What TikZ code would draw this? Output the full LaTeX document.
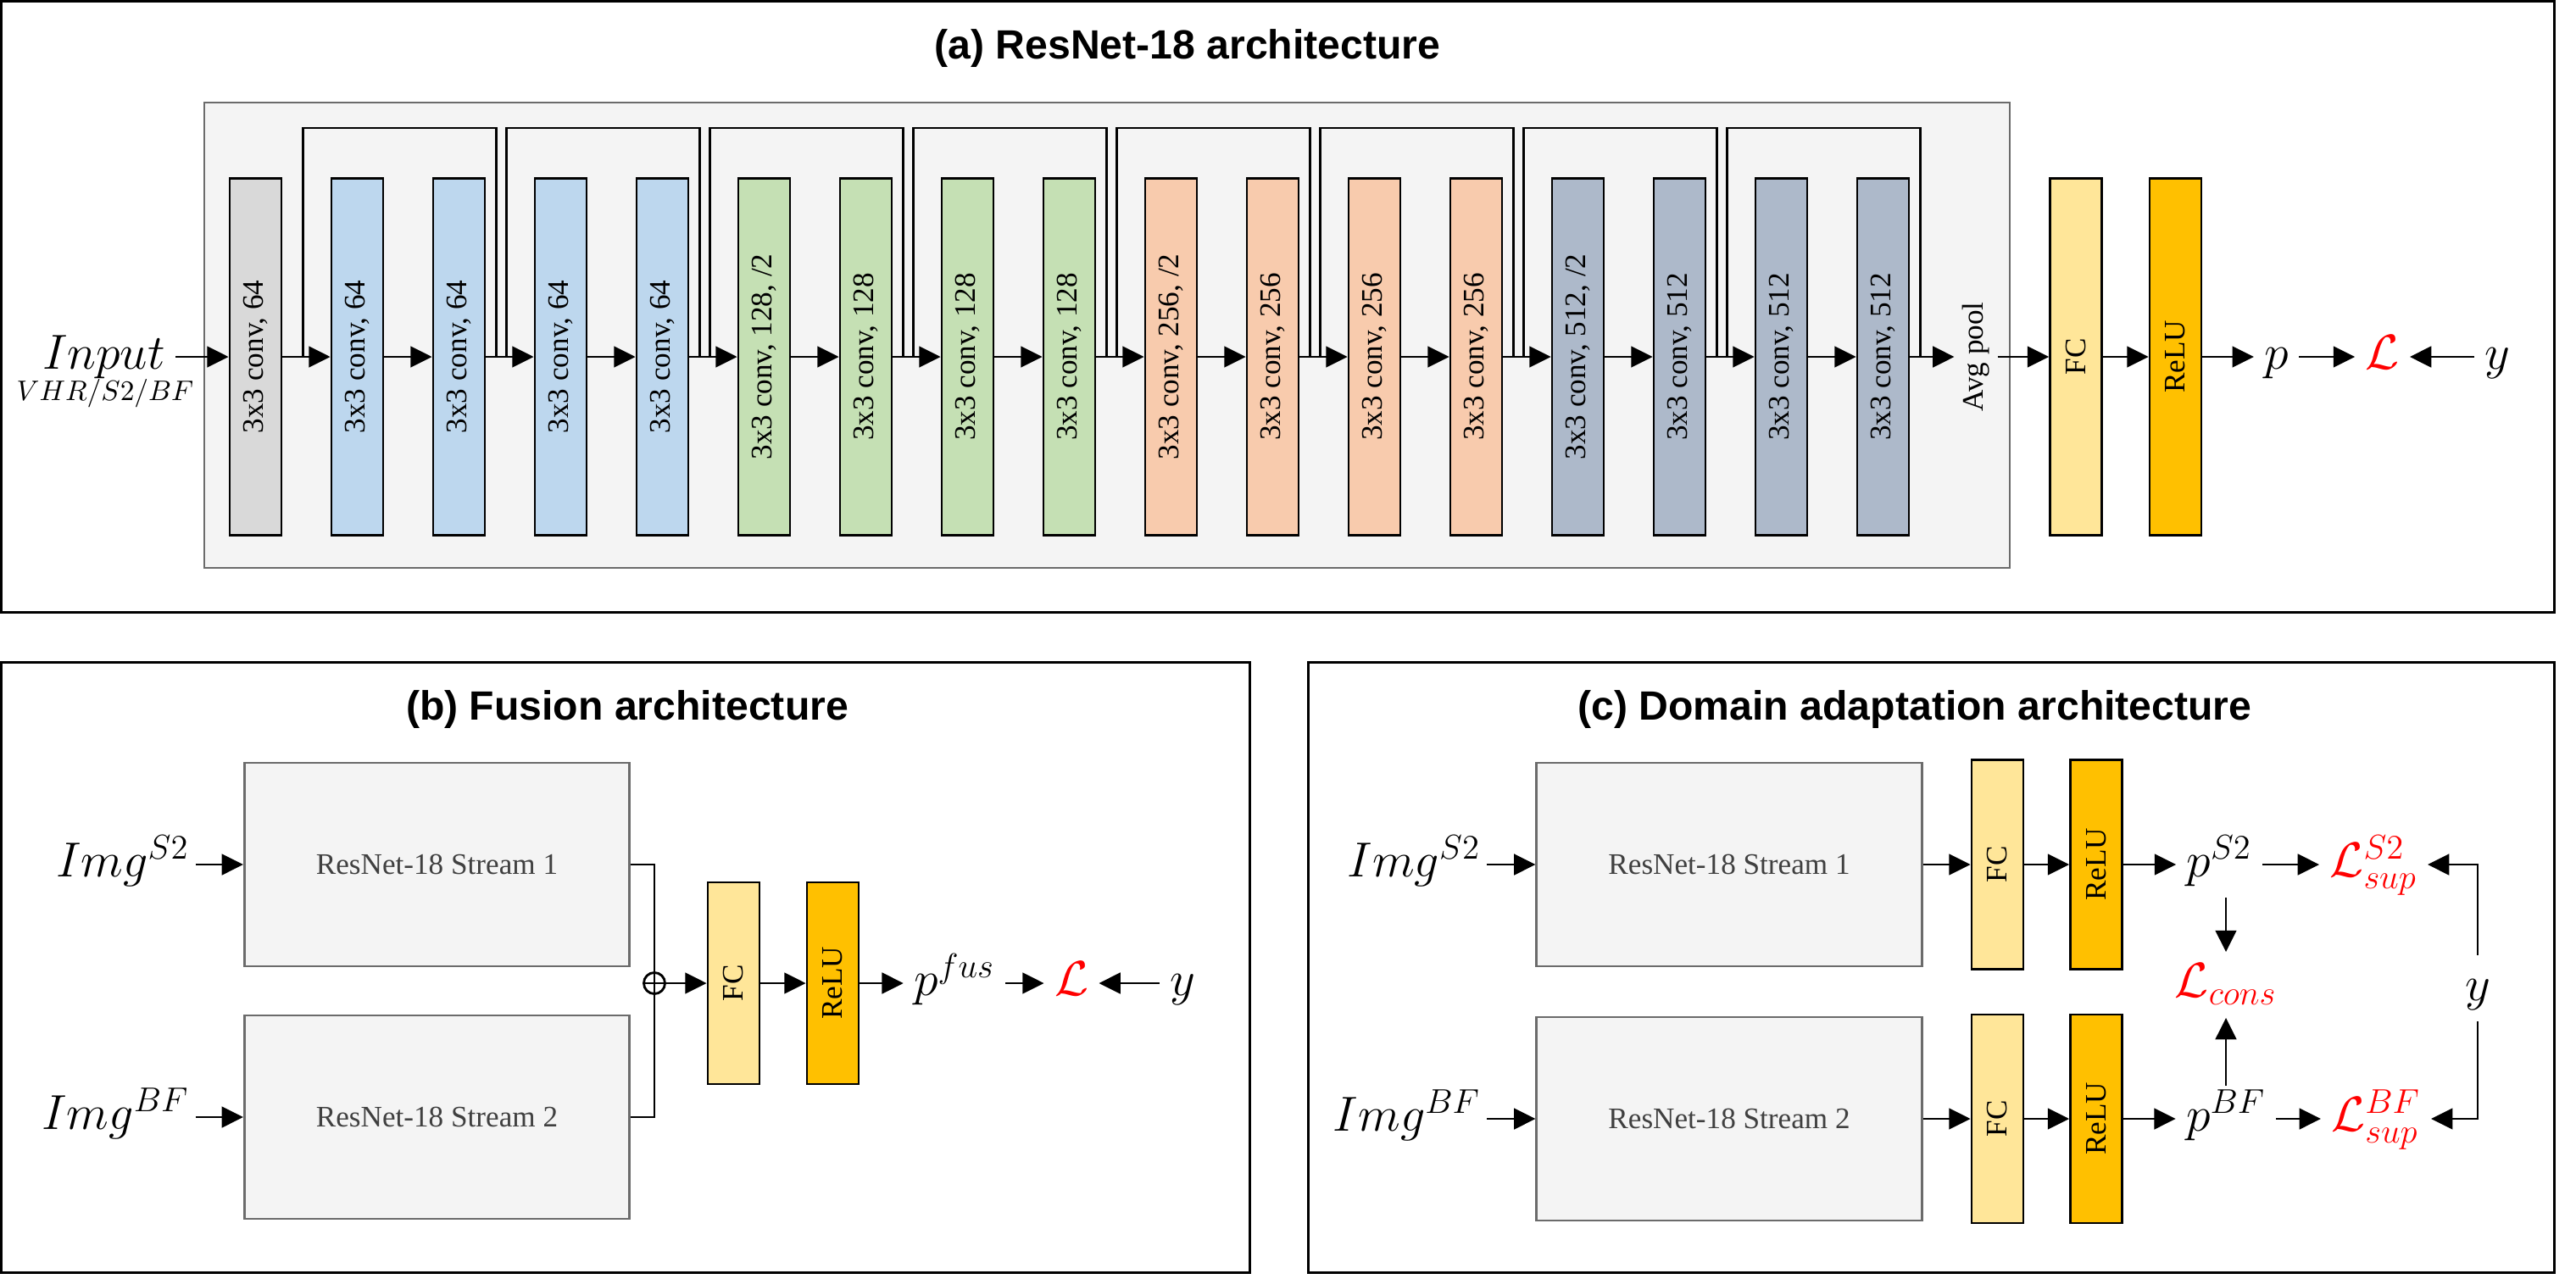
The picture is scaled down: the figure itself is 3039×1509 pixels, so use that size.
\documentclass[tikz,border=0pt]{standalone}
\usepackage[no-math]{fontspec}
\setmainfont{Liberation Serif}
\newfontfamily\titlefont{Liberation Sans}
\DeclareFontShape{OML}{cmm}{m}{it}{<-8>cmmi7<8-11>cmmi10<11->cmmi12}{}
\DeclareFontShape{OMS}{cmsy}{m}{n}{<-8>cmsy7<8->cmsy10}{}
\DeclareFontShape{OT1}{cmr}{m}{n}{<-8>cmr7<8-11>cmr10<11->cmr12}{}
\usepackage{tikz}
\usetikzlibrary{arrows.meta, positioning, calc}
\definecolor{cgrey}{HTML}{D9D9D9}
\definecolor{cblue}{HTML}{BDD7EE}
\definecolor{cgreen}{HTML}{C5E0B4}
\definecolor{corange}{HTML}{F8CBAD}
\definecolor{cslate}{HTML}{ADB9CA}
\definecolor{cfc}{HTML}{FFE699}
\definecolor{crelu}{HTML}{FFC000}
\definecolor{cpanel}{HTML}{F4F4F4}
\definecolor{cborder}{HTML}{6B6B6B}
\definecolor{cstreamtxt}{HTML}{404040}
\newcommand{\mathfs}{\fontsize{16.5}{20}\selectfont}
\newcommand{\boxfs}{\fontsize{10}{12}\selectfont}
\newcommand{\vt}[1]{\rotatebox{90}{#1}}
\tikzset{
	panel/.style={draw=black, line width=0.85pt},
	graybox/.style={draw=cborder, fill=cpanel, line width=0.8pt},
	title_txt/.style={font=\titlefont\bfseries\fontsize{13.7}{16}\selectfont, anchor=base},
	conv/.style={draw=black, line width=0.8pt, minimum width=0.61cm, minimum height=4.2cm, inner sep=0pt, font=\boxfs},
	stream/.style={graybox, minimum width=4.54cm, minimum height=2.4cm, font=\boxfs, text=cstreamtxt},
	mth/.style={font=\mathfs, text height=0.41cm, text depth=0.12cm},
	img/.style={mth, inner sep=2pt},
	loss/.style={mth, text=red},
	arr/.style={-{Triangle[length=7.2pt,width=7pt]}, line width=0.8pt},
	skip_line/.style={line width=0.8pt},
	plus_node/.style={circle, draw=black, line width=0.8pt, minimum size=0.25cm, inner sep=0pt,
		path picture={\draw[line width=0.8pt] (path picture bounding box.north) -- (path picture bounding box.south)
			(path picture bounding box.west) -- (path picture bounding box.east);}}
}

\begin{document}
\begin{tikzpicture}[x=0.01cm, y=-0.01cm]
	\useasboundingbox (0,0) rectangle (3039,1509);
	\draw[panel] (1.5,1.5) rectangle (3013.5,722);
	\draw[panel] (1.5,781) rectangle (1474,1501);
	\draw[panel] (1543,781) rectangle (3013.5,1501);
	% (a)
	\node[title_txt] (ta) at (1401,70) {(a) ResNet-18 architecture};
	\draw[graybox] (241,121) rectangle (2371,670);
	\foreach \i/\lab/\col in {1/{3x3 conv, 64}/cgrey, 2/{3x3 conv, 64}/cblue, 3/{3x3 conv, 64}/cblue,
		4/{3x3 conv, 64}/cblue, 5/{3x3 conv, 64}/cblue, 6/{3x3 conv, 128, /2}/cgreen, 7/{3x3 conv, 128}/cgreen,
		8/{3x3 conv, 128}/cgreen, 9/{3x3 conv, 128}/cgreen, 10/{3x3 conv, 256, /2}/corange, 11/{3x3 conv, 256}/corange,
		12/{3x3 conv, 256}/corange, 13/{3x3 conv, 256}/corange, 14/{3x3 conv, 512, /2}/cslate, 15/{3x3 conv, 512}/cslate,
		16/{3x3 conv, 512}/cslate, 17/{3x3 conv, 512}/cslate}
		\node[conv, fill=\col] (c\i) at (181.5+120*\i,421) {\vt{\lab}};
	\foreach \i [count=\j from 2] in {1,...,16}
		\draw[arr] (c\i) -- (c\j);
	\foreach \k [evaluate=\k as \a using int(2*\k+1), evaluate=\k as \b using int(2*\k+3)] in {0,...,7} {
		\coordinate (jo\k) at ([xshift=0.24cm]c\a.east);
		\coordinate (ji\k) at ([xshift=0.12cm]c\b.east);
		\draw[skip_line] (jo\k) -- ++(0,-270) -| (ji\k);
	}
	\node[mth] (inp) at (122.5,421) {$Input$};
	\node[font=\fontsize{9.5}{11}\selectfont, anchor=base] (insrc) at (124,472) {$VHR/S2/BF$};
	\draw[arr] (inp) -- (c1);
	\node[font=\boxfs, inner sep=2.5pt] (pool) at (2331,421) {\vt{Avg pool}};
	\node[conv, fill=cfc] (fca) at (2449,421) {\vt{FC}};
	\node[conv, fill=crelu] (relua) at (2566.5,421) {\vt{ReLU}};
	\node[mth] (pa) at (2685.5,421) {$p$};
	\node[loss] (la) at (2810.5,421) {$\mathcal{L}$};
	\node[mth] (ya) at (2946,421) {$y$};
	\draw[arr] (c17) -- (pool);
	\draw[arr] (pool) -- (fca);
	\draw[arr] (fca) -- (relua);
	\draw[arr] (relua) -- (pa);
	\draw[arr] (pa) -- (la);
	\draw[arr] (ya) -- (la);
	% (b)
	\node[title_txt] (tb) at (740,849) {(b) Fusion architecture};
	\node[stream] (sb1) at (515.5,1020) {ResNet-18 Stream 1};
	\node[stream] (sb2) at (515.5,1318) {ResNet-18 Stream 2};
	\node[img, left=0.56cm of sb1] (imgb1) {$Img^{S2}$};
	\node[img, left=0.56cm of sb2] (imgb2) {$Img^{BF}$};
	\draw[arr] (imgb1) -- (sb1);
	\draw[arr] (imgb2) -- (sb2);
	\node[plus_node] (plus) at (772,1160) {};
	\draw[skip_line] (sb1.east) -| (plus.north);
	\draw[skip_line] (sb2.east) -| (plus.south);
	\node[conv, fill=cfc, minimum height=2.38cm] (fcb) at (865.5,1160) {\vt{FC}};
	\node[conv, fill=crelu, minimum height=2.38cm] (relub) at (982.5,1160) {\vt{ReLU}};
	\node[mth] (pfus) at (1126,1160) {$p^{fus}$};
	\node[loss] (lb) at (1264,1160) {$\mathcal{L}$};
	\node[mth] (yb) at (1395.5,1160) {$y$};
	\draw[arr] (plus) -- (fcb);
	\draw[arr] (fcb) -- (relub);
	\draw[arr] (relub) -- (pfus);
	\draw[arr] (pfus) -- (lb);
	\draw[arr] (yb) -- (lb);
	% (c)
	\node[title_txt] (tc) at (2259,849) {(c) Domain adaptation architecture};
	\node[stream] (sc1) at (2040,1020) {ResNet-18 Stream 1};
	\node[stream] (sc2) at (2040,1320) {ResNet-18 Stream 2};
	\node[img, left=0.57cm of sc1] (imgc1) {$Img^{S2}$};
	\node[img, left=0.57cm of sc2] (imgc2) {$Img^{BF}$};
	\draw[arr] (imgc1) -- (sc1);
	\draw[arr] (imgc2) -- (sc2);
	\node[conv, fill=cfc, minimum height=2.47cm] (fcc1) at (2356.5,1020) {\vt{FC}};
	\node[conv, fill=crelu, minimum height=2.47cm] (reluc1) at (2473,1020) {\vt{ReLU}};
	\node[conv, fill=cfc, minimum height=2.46cm] (fcc2) at (2356.5,1320) {\vt{FC}};
	\node[conv, fill=crelu, minimum height=2.46cm] (reluc2) at (2473,1320) {\vt{ReLU}};
	\node[mth] (ps2) at (2618,1020) {$p^{S2}$};
	\node[mth] (pbf) at (2626,1320) {$p^{BF}$};
	\node[loss] (ls2) at (2800,1020) {$\mathcal{L}^{S2}_{sup}$};
	\node[loss] (lbf) at (2803,1320) {$\mathcal{L}^{BF}_{sup}$};
	\node[loss] (lcons) at (2626,1162) {$\mathcal{L}_{cons}$};
	\node[mth] (yc) at (2923,1166) {$y$};
	\draw[arr] (sc1) -- (fcc1);
	\draw[arr] (fcc1) -- (reluc1);
	\draw[arr] (reluc1) -- (ps2);
	\draw[arr] (ps2) -- (ls2);
	\draw[arr] (sc2) -- (fcc2);
	\draw[arr] (fcc2) -- (reluc2);
	\draw[arr] (reluc2) -- (pbf);
	\draw[arr] (pbf) -- (lbf);
	\draw[arr] (lcons.north |- ps2.south) -- (lcons.north);
	\draw[arr] (lcons.south |- pbf.north) -- (lcons.south);
	\draw[arr] (yc.north) |- (ls2.east);
	\draw[arr] (yc.south) |- (lbf.east);
\end{tikzpicture}
\end{document}
